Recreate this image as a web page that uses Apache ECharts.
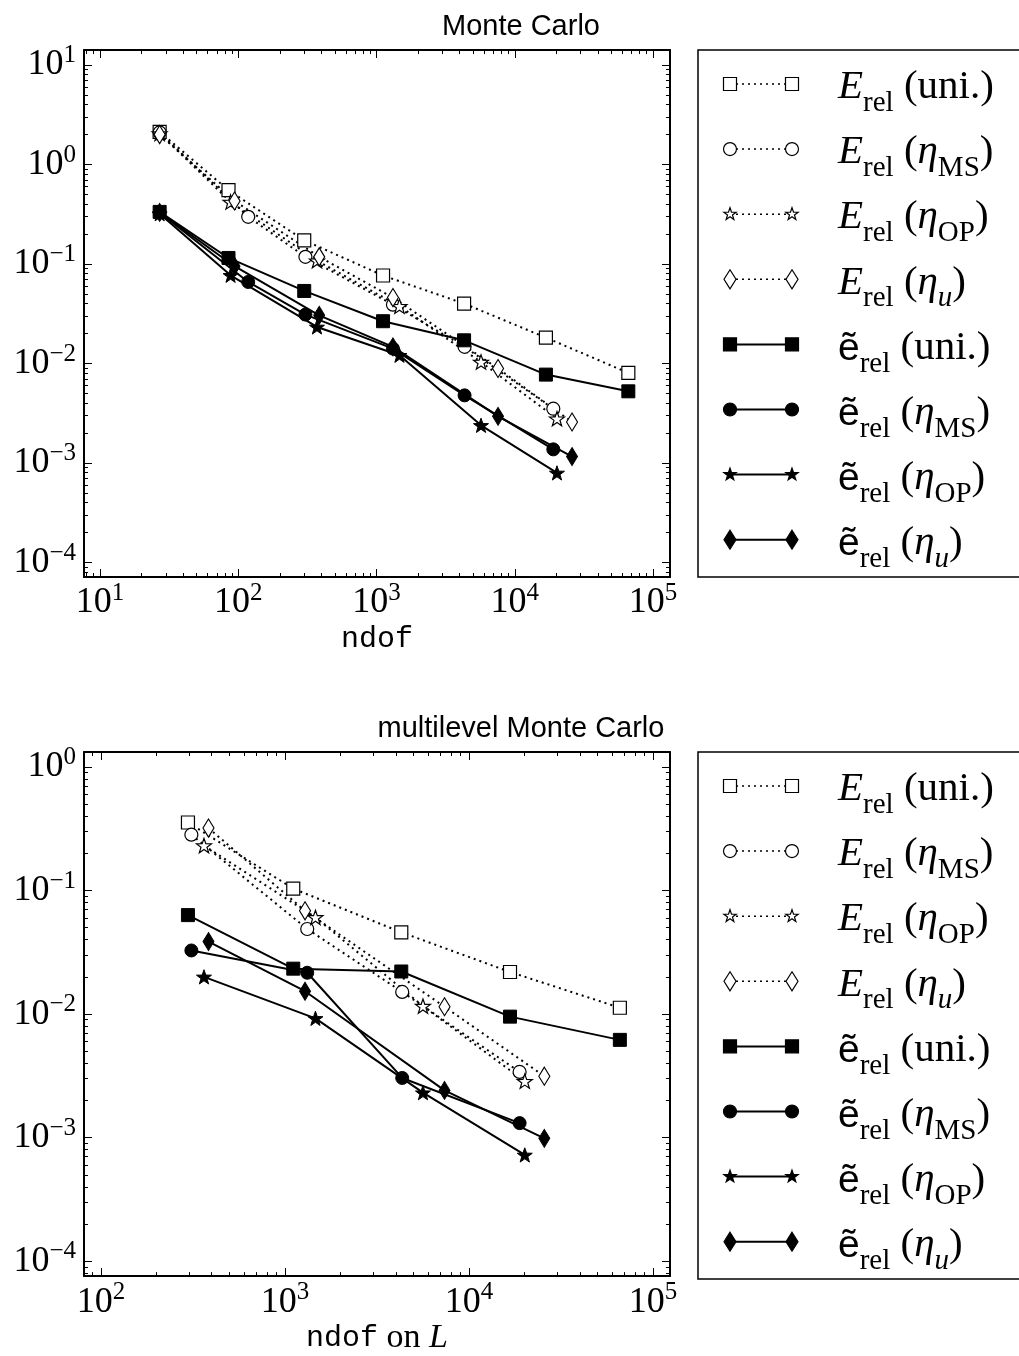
<!DOCTYPE html>
<html>
<head>
<meta charset="utf-8">
<script src="https://cdn.jsdelivr.net/npm/echarts@6/dist/echarts.min.js"></script>
<style>
html,body{margin:0;padding:0;background:#fff;}
#chart{width:1019px;height:1356px;}
</style>
</head>
<body>
<div id="chart"></div>
<script>
// ===================== DATA =====================
// Top panel: Monte Carlo
const mcNdofUni = [27, 85, 300, 1115, 4300, 16800, 66300];
const mcErelUni = [2.13, 0.552, 0.173, 0.0766, 0.040, 0.0182, 0.00804];
const mcEtilUni = [0.334, 0.115, 0.0536, 0.0266, 0.0171, 0.00773, 0.00525];

const mcNdofMS = [27, 118, 306, 1315, 4335, 19000];
const mcErelMS = [2.1, 0.298, 0.118, 0.039, 0.0147, 0.00351];
const mcEtilMS = [0.33, 0.066, 0.031, 0.0141, 0.00478, 0.00137];

const mcNdofOP = [27, 88, 371, 1466, 5700, 20200];
const mcErelOP = [2.05, 0.42, 0.108, 0.0376, 0.01035, 0.00279];
const mcEtilOP = [0.32, 0.077, 0.0233, 0.0121, 0.00239, 0.000794];

const mcNdofU = [27, 94, 385, 1315, 7570, 25960];
const mcErelU = [2.0, 0.43, 0.118, 0.046, 0.0089, 0.00258];
const mcEtilU = [0.33, 0.095, 0.0305, 0.0147, 0.00294, 0.00116];

// Bottom panel: multilevel Monte Carlo (ndof on L)
const mlNdofUni = [297, 1109, 4285, 16700, 66000];
const mlErelUni = [0.355, 0.1035, 0.0459, 0.0219, 0.01125];
const mlEtilUni = [0.0632, 0.0233, 0.0221, 0.00953, 0.00618];

const mlNdofMS = [310, 1321, 4335, 18830];
const mlErelMS = [0.283, 0.0488, 0.0151, 0.0034];
const mlEtilMS = [0.0327, 0.0216, 0.00304, 0.00131];

const mlNdofOP = [363, 1464, 5620, 20090];
const mlErelOP = [0.231, 0.0606, 0.0116, 0.00286];
const mlEtilOP = [0.0200, 0.00923, 0.00231, 0.000724];

const mlNdofU = [384, 1285, 7360, 25650];
const mlErelU = [0.32, 0.0685, 0.01146, 0.00314];
const mlEtilU = [0.0386, 0.0153, 0.00241, 0.000986];

// Axis ranges and tick labels
const mcXRange = [7.66, 132700];
const mcYRange = [7.14e-5, 14.16];
const mcXTicks = [10, 100, 1000, 10000, 100000];
const mcYTicks = [1e-4, 1e-3, 1e-2, 1e-1, 1, 10];

const mlXRange = [80.9, 123600];
const mlYRange = [7.57e-5, 1.321];
const mlXTicks = [100, 1000, 10000, 100000];
const mlYTicks = [1e-4, 1e-3, 1e-2, 1e-1, 1];

const titles = ['Monte Carlo', 'multilevel Monte Carlo'];
const xNames = ['ndof', '{tt|ndof}{rm| on }{it|L}'];

const legendTexts = [
  '{E|E}{sub|rel}{rm| (uni.)}',
  '{E|E}{sub|rel}{rm| (}{it|η}{sub|MS}{rm|)}',
  '{E|E}{sub|rel}{rm| (}{it|η}{sub|OP}{rm|)}',
  '{E|E}{sub|rel}{rm| (}{it|η}{subit|u}{rm|)}',
  '{sf|ẽ}{sub|rel}{rm| (uni.)}',
  '{sf|ẽ}{sub|rel}{rm| (}{it|η}{sub|MS}{rm|)}',
  '{sf|ẽ}{sub|rel}{rm| (}{it|η}{sub|OP}{rm|)}',
  '{sf|ẽ}{sub|rel}{rm| (}{it|η}{subit|u}{rm|)}'
];

// ===================== STYLE =====================
const STAR_PTS = (function () {
  const p = [];
  for (let i = 0; i < 10; i++) {
    const a = -Math.PI / 2 + i * Math.PI / 5;
    const r = i % 2 === 0 ? 1 : 0.4;
    p.push([Math.cos(a) * r, Math.sin(a) * r]);
  }
  return p;
})();
const STAR_PATH = 'path://' + STAR_PTS.map((q, i) => (i ? 'L' : 'M') + q[0].toFixed(4) + ' ' + q[1].toFixed(4)).join(' ') + ' Z';

const markerKinds = {
  uni: { symbol: 'rect', size: 13, lsize: 13 },
  MS: { symbol: 'circle', size: 13, lsize: 13 },
  OP: { symbol: STAR_PATH, size: 15, lsize: 13 },
  u: { symbol: 'diamond', size: [11, 18], lsize: [12, 19] }
};
const kindOrder = ['uni', 'MS', 'OP', 'u'];

const SERIF = 'Liberation Serif';
const grids = [
  { left: 84, top: 50, width: 586, height: 527 },
  { left: 84, top: 752, width: 586, height: 527 }
];

function pow10Label(v) {
  const e = Math.round(Math.log10(v));
  const s = e < 0 ? '\u2212' + (-e) : String(e);
  return '{b|10}{e|' + s + '}';
}
const tickRich = {
  b: { fontFamily: SERIF, fontSize: 36, lineHeight: 28, verticalAlign: 'bottom', color: '#000' },
  e: { fontFamily: SERIF, fontSize: 25, lineHeight: 20, padding: [0, 0, 15, 0], verticalAlign: 'bottom', color: '#000' }
};

function minorValues(range) {
  const out = [];
  const k0 = Math.floor(Math.log10(range[0])) - 1, k1 = Math.ceil(Math.log10(range[1]));
  for (let k = k0; k <= k1; k++) {
    for (let m = 2; m <= 9; m++) {
      const v = m * Math.pow(10, k);
      if (v > range[0] && v < range[1]) out.push(v);
    }
  }
  return out;
}

const xAxes = [], yAxes = [];
const primaryX = [], primaryY = [];

function buildAxes(gi, xr, yr, xt, yt, xName, nameGap) {
  const spine = { show: true, onZero: false, lineStyle: { color: '#000', width: 2 } };
  const tickStyle = { color: '#000', width: 1 };
  primaryX.push(xAxes.length);
  xAxes.push({
    type: 'log', gridIndex: gi, min: xr[0], max: xr[1], position: 'bottom',
    axisLine: spine, splitLine: { show: false },
    axisTick: { show: true, inside: true, length: 8, customValues: xt, lineStyle: tickStyle },
    axisLabel: { show: true, customValues: xt, formatter: pow10Label, rich: tickRich, margin: 16, color: '#000' },
    name: xName, nameLocation: 'middle', nameGap: nameGap,
    nameTextStyle: {
      fontFamily: 'Liberation Mono', fontSize: 30, color: '#000', verticalAlign: 'middle',
      rich: {
        tt: { fontFamily: 'Liberation Mono', fontSize: 30, color: '#000' },
        rm: { fontFamily: SERIF, fontSize: 34, color: '#000' },
        it: { fontFamily: SERIF, fontSize: 34, fontStyle: 'italic', color: '#000' }
      }
    }
  });
  const minX = minorValues(xr);
  xAxes.push({ type: 'log', gridIndex: gi, min: xr[0], max: xr[1], position: 'bottom',
    axisLine: { show: false }, splitLine: { show: false }, axisLabel: { show: false },
    axisTick: { show: true, inside: true, length: 4, customValues: minX, lineStyle: tickStyle } });
  xAxes.push({ type: 'log', gridIndex: gi, min: xr[0], max: xr[1], position: 'top',
    axisLine: spine, splitLine: { show: false }, axisLabel: { show: false },
    axisTick: { show: true, inside: true, length: 8, customValues: xt, lineStyle: tickStyle } });
  xAxes.push({ type: 'log', gridIndex: gi, min: xr[0], max: xr[1], position: 'top',
    axisLine: { show: false }, splitLine: { show: false }, axisLabel: { show: false },
    axisTick: { show: true, inside: true, length: 4, customValues: minX, lineStyle: tickStyle } });
  primaryY.push(yAxes.length);
  yAxes.push({
    type: 'log', gridIndex: gi, min: yr[0], max: yr[1], position: 'left',
    axisLine: spine, splitLine: { show: false },
    axisTick: { show: true, inside: true, length: 8, customValues: yt, lineStyle: tickStyle },
    axisLabel: { show: true, customValues: yt, formatter: pow10Label, rich: tickRich, margin: 8, padding: [8, 0, 0, 0], color: '#000' }
  });
  const minY = minorValues(yr);
  yAxes.push({ type: 'log', gridIndex: gi, min: yr[0], max: yr[1], position: 'left',
    axisLine: { show: false }, splitLine: { show: false }, axisLabel: { show: false },
    axisTick: { show: true, inside: true, length: 4, customValues: minY, lineStyle: tickStyle } });
  yAxes.push({ type: 'log', gridIndex: gi, min: yr[0], max: yr[1], position: 'right',
    axisLine: spine, splitLine: { show: false }, axisLabel: { show: false },
    axisTick: { show: true, inside: true, length: 8, customValues: yt, lineStyle: tickStyle } });
  yAxes.push({ type: 'log', gridIndex: gi, min: yr[0], max: yr[1], position: 'right',
    axisLine: { show: false }, splitLine: { show: false }, axisLabel: { show: false },
    axisTick: { show: true, inside: true, length: 4, customValues: minY, lineStyle: tickStyle } });
}

buildAxes(0, mcXRange, mcYRange, mcXTicks, mcYTicks, xNames[0], 62);
buildAxes(1, mlXRange, mlYRange, mlXTicks, mlYTicks, xNames[1], 60);

function zip(xs, ys) { return xs.map((x, i) => [x, ys[i]]); }

const series = [];
function addSeries(gi, name, kind, open, xs, ys) {
  const mk = markerKinds[kind];
  series.push({
    type: 'line', name: name,
    xAxisIndex: primaryX[gi], yAxisIndex: primaryY[gi],
    data: zip(xs, ys),
    symbol: mk.symbol, symbolSize: mk.size, symbolKeepAspect: true, showSymbol: true,
    itemStyle: { color: open ? '#fff' : '#000', borderColor: '#000', borderWidth: open ? 1.2 : 1 },
    lineStyle: { color: '#000', width: 2, type: open ? [2, 4] : 'solid', cap: 'butt' },
    emphasis: { disabled: true },
    animation: false
  });
}

const mcSets = {
  uni: [mcNdofUni, mcErelUni, mcEtilUni], MS: [mcNdofMS, mcErelMS, mcEtilMS],
  OP: [mcNdofOP, mcErelOP, mcEtilOP], u: [mcNdofU, mcErelU, mcEtilU]
};
const mlSets = {
  uni: [mlNdofUni, mlErelUni, mlEtilUni], MS: [mlNdofMS, mlErelMS, mlEtilMS],
  OP: [mlNdofOP, mlErelOP, mlEtilOP], u: [mlNdofU, mlErelU, mlEtilU]
};
[mcSets, mlSets].forEach((sets, gi) => {
  kindOrder.forEach(k => addSeries(gi, 'E_rel ' + k, k, true, sets[k][0], sets[k][1]));
  kindOrder.forEach(k => addSeries(gi, 'e_rel ' + k, k, false, sets[k][0], sets[k][2]));
});

// ===================== LEGEND & TITLES (graphics) =====================
const legendRich = {
  E: { fontFamily: SERIF, fontStyle: 'italic', fontSize: 41, lineHeight: 44, padding: [0, 0, 10, 0], verticalAlign: 'bottom', color: '#000' },
  rm: { fontFamily: SERIF, fontSize: 41, lineHeight: 44, padding: [0, 0, 10, 0], verticalAlign: 'bottom', color: '#000' },
  it: { fontFamily: SERIF, fontStyle: 'italic', fontSize: 41, lineHeight: 44, padding: [0, 0, 10, 0], verticalAlign: 'bottom', color: '#000' },
  sf: { fontFamily: 'Liberation Sans', fontSize: 39, lineHeight: 44, padding: [0, 0, 10, 0], verticalAlign: 'bottom', color: '#000' },
  sub: { fontFamily: SERIF, fontSize: 29, lineHeight: 44, verticalAlign: 'bottom', color: '#000' },
  subit: { fontFamily: SERIF, fontStyle: 'italic', fontSize: 29, lineHeight: 44, verticalAlign: 'bottom', color: '#000' }
};

function markerGraphic(kind, open, x, y) {
  const mk = markerKinds[kind];
  const style = { fill: open ? '#fff' : '#000', stroke: '#000', lineWidth: 1.2 };
  if (kind === 'uni') {
    const s = mk.lsize;
    return { type: 'rect', shape: { x: x - s / 2, y: y - s / 2, width: s, height: s }, style: style };
  }
  if (kind === 'MS') {
    return { type: 'circle', shape: { cx: x, cy: y, r: mk.lsize / 2 }, style: style };
  }
  if (kind === 'OP') {
    const r = mk.lsize / 2;
    return { type: 'polygon', shape: { points: STAR_PTS.map(q => [x + q[0] * r, y + q[1] * r]) }, style: style };
  }
  const w = mk.lsize[0] / 2, h = mk.lsize[1] / 2;
  return { type: 'polygon', shape: { points: [[x, y - h], [x + w, y], [x, y + h], [x - w, y]] }, style: style };
}

const graphics = [];
grids.forEach((g) => {
  graphics.push({ type: 'rect', z: 100, shape: { x: 698, y: g.top, width: 340, height: g.height },
    style: { fill: '#fff', stroke: '#000', lineWidth: 1.5 } });
  for (let i = 0; i < 8; i++) {
    const y = g.top + 34 + 65.1 * i;
    const open = i < 4;
    const kind = kindOrder[i % 4];
    graphics.push({ type: 'line', z: 101, shape: { x1: 730, y1: y, x2: 792, y2: y },
      style: { stroke: '#000', lineWidth: open ? 1.5 : 2, lineDash: open ? [2, 4] : null } });
    const m1 = markerGraphic(kind, open, 730, y); m1.z = 102; graphics.push(m1);
    const m2 = markerGraphic(kind, open, 792, y); m2.z = 102; graphics.push(m2);
    graphics.push({ type: 'text', z: 102, x: 838, y: y + 12,
      style: { text: legendTexts[i], rich: legendRich, align: 'left', verticalAlign: 'middle', fill: '#000' } });
  }
});
graphics.push({ type: 'text', x: 521, y: 27,
  style: { text: titles[0], fontFamily: 'Liberation Sans', fontSize: 29, fill: '#000', align: 'center', verticalAlign: 'middle' } });
graphics.push({ type: 'text', x: 521, y: 729,
  style: { text: titles[1], fontFamily: 'Liberation Sans', fontSize: 29, fill: '#000', align: 'center', verticalAlign: 'middle' } });

const chart = echarts.init(document.getElementById('chart'), null, { renderer: 'canvas' });
chart.setOption({
  backgroundColor: '#fff',
  animation: false,
  grid: grids.map(g => Object.assign({ containLabel: false, show: false }, g)),
  xAxis: xAxes,
  yAxis: yAxes,
  series: series,
  graphic: graphics
});
</script>
</body>
</html>
